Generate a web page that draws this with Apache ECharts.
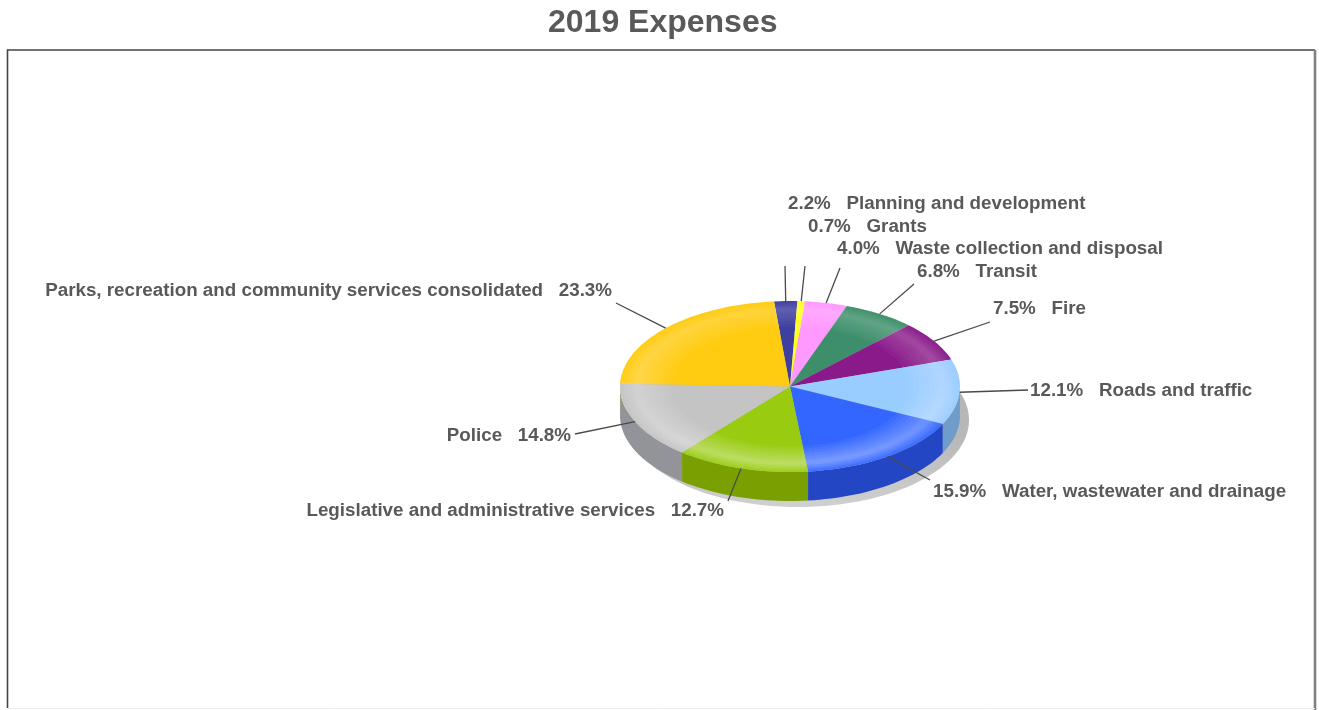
<!DOCTYPE html>
<html><head><meta charset="utf-8">
<style>html,body{margin:0;padding:0;background:#fff}#c{width:1319px;height:710px}</style>
<script src="https://cdn.jsdelivr.net/npm/echarts@6/dist/echarts.min.js"></script>
</head><body><div id="c"></div>
<script>
var categories = ['Planning and development','Grants','Waste collection and disposal','Transit','Fire','Roads and traffic','Water, wastewater and drainage','Legislative and administrative services','Police','Parks, recreation and community services consolidated'];
var values = [2.2,0.7,4.0,6.8,7.5,12.1,15.9,12.7,14.8,23.3];
var colors = ['#3f3f9f','#ffff20','#ff99ff','#3d8f6b','#8a1a8a','#99ccff','#3366ff','#99cc11','#c4c4c4','#ffcc11'];
var sideColors = ['#2c2c80','#c0c000','#c070c0','#2a6a50','#601060','#6f9cc8','#2347c4','#7a9f00','#92949a','#c89c00'];

// layout: where each label's leader line ends, and how the text hangs off it
var leaderEnds = [[785,266],[805,266],[840,268],[914,284],[990,322],[1028,390],[930,480],[728,501],[575,434],[616,303]];
var labelAnchors = [[788,203.5],[808,226.5],[837,248.5],[917,271.5],[993,308.5],[1030,390.5],[933,491.5],[724,510.5],[571,435.5],[612,290.5]];
var labelAlign = ['left','left','left','left','left','left','left','right','right','right'];

var CX = 790, CY = 386.5, RX = 170, RY = 85.5, DEPTH = 29, START = -5.4, WARP = 2.2;
var total = values.reduce(function(a,b){return a+b;},0);
function angles(i){
  var s = 0; for (var k=0;k<i;k++) s += values[k];
  return [START + s/total*360, START + (s+values[i])/total*360];
}
// viewing perspective: the near side of the disc reads slightly wider
function pt(deg, r, dy){
  var a = (deg + WARP*(1-Math.cos(deg*Math.PI/180))/2)*Math.PI/180;
  return [CX + RX*r*Math.sin(a), CY - RY*r*Math.cos(a) + (dy||0)];
}
function arc(a0,a1,r,dy){
  var out=[], n=Math.max(2,Math.ceil(Math.abs(a1-a0)/2));
  for (var j=0;j<=n;j++) out.push(pt(a0+(a1-a0)*j/n,r,dy));
  return out;
}
function poly(points, fill, opacity){
  return {type:'polygon',shape:{points:points},style:{fill:fill,opacity:opacity==null?1:opacity,stroke:null}};
}
function renderShadow(params){
  if (params.dataIndex!==0) return {type:'group',children:[]};
  return {type:'ellipse',shape:{cx:CX+8,cy:CY+33.5,rx:RX+1,ry:RY+1.5},style:{fill:{type:'linear',x:0,y:0,x2:0,y2:1,colorStops:[{offset:0,color:'#b4b4b4'},{offset:0.6,color:'#b8b8b8'},{offset:1,color:'#d0d0d0'}]}}};
}
function renderSide(params){
  var i=params.dataIndex, r=angles(i);
  var a0=Math.max(r[0],90), a1=Math.min(r[1],272);
  if (a1<=a0) return {type:'group',children:[]};
  var top=arc(a0,a1,1,0), bot=arc(a1,a0,1,DEPTH);
  return poly(top.concat(bot),sideColors[i]);
}
var glow={type:'linear',global:true,x:0,y:CY-RY,x2:0,y2:CY+RY,colorStops:[{offset:0,color:'rgba(255,255,255,0.4)'},{offset:0.5,color:'rgba(255,255,255,0.6)'},{offset:1,color:'rgba(255,255,255,1)'}]};
var ringCentre=0.9, ringHalf=[0.2,0.17,0.14,0.11,0.08,0.05,0.03];
function renderTop(params){
  var i=params.dataIndex, r=angles(i), kids=[];
  kids.push(poly([[CX,CY]].concat(arc(r[0],r[1],1,0)),colors[i]));
  ringHalf.forEach(function(h){
    var ro=Math.min(1,ringCentre+h*0.5), ri=ringCentre-h;
    kids.push(poly(arc(r[0],r[1],ro,0).concat(arc(r[1],r[0],ri,0)),glow,0.06));
  });
  return {type:'group',children:kids};
}
function renderLeader(params){
  var i=params.dataIndex, r=angles(i), p=pt((r[0]+r[1])/2,1,0), e=leaderEnds[i];
  return {type:'line',shape:{x1:p[0],y1:p[1],x2:e[0],y2:e[1]},style:{stroke:'#4a4a4a',lineWidth:1.3}};
}
function labelText(i){
  var v=values[i].toFixed(1)+'%';
  return labelAlign[i]==='left' ? v+'   '+categories[i] : categories[i]+'   '+v;
}
function renderLabel(params){
  var i=params.dataIndex, a=labelAnchors[i];
  return {type:'text',x:a[0],y:a[1],style:{text:labelText(i),fill:'#595959',font:'bold 18.8px "Liberation Sans", Arial, sans-serif',align:labelAlign[i],verticalAlign:'middle'}};
}
function series(fn,z){return {type:'custom',coordinateSystem:'none',silent:true,z:z,renderItem:fn,data:values,clip:false,animation:false};}

var chart=echarts.init(document.getElementById('c'),null,{renderer:'canvas'});
chart.setOption({
  animation:false,
  backgroundColor:'#ffffff',
  title:{text:'2019 Expenses',left:543,top:2,textStyle:{color:'#595959',fontSize:32,fontWeight:'bold',fontFamily:'"Liberation Sans", Arial, sans-serif'}},
  graphic:[
    {type:'polyline',z:0,shape:{points:[[7.5,708],[7.5,50],[1315,50]]},style:{fill:null,stroke:'#444444',lineWidth:1.6}},
    {type:'line',z:0,shape:{x1:1315,y1:50,x2:1315,y2:710},style:{stroke:'#808080',lineWidth:2.6}},
    {type:'line',z:0,shape:{x1:8,y1:708.5,x2:1315,y2:708.5},style:{stroke:'#ececec',lineWidth:1}}
  ],
  series:[series(renderShadow,1),series(renderSide,2),series(renderTop,3),series(renderLeader,4),series(renderLabel,5)]
});
</script></body></html>
